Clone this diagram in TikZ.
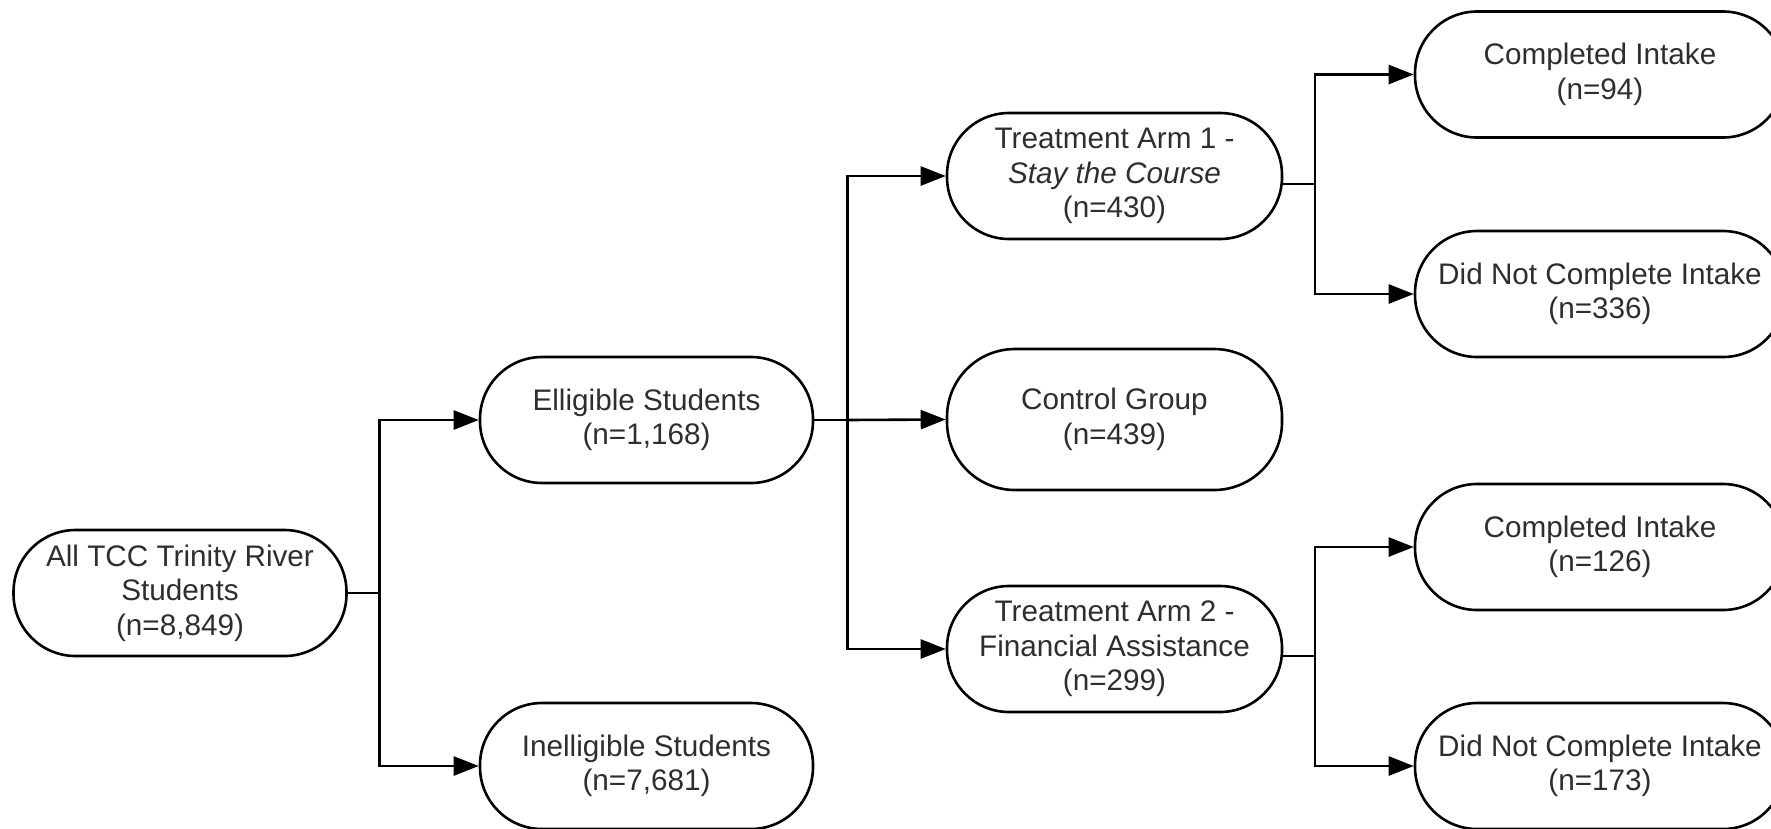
\documentclass[tikz,border=0pt]{standalone}
\usepackage{fontspec}
\setmainfont{Liberation Sans}
\usetikzlibrary{arrows.meta}
\begin{document}
\begin{tikzpicture}[x=1pt,y=-1pt,
  box/.style={draw=black,line width=2.6pt,rectangle,rounded corners=62pt,
    minimum width=333pt,minimum height=126pt,inner sep=0pt,align=center,
    text=black!82,font=\fontsize{29.7}{34.5}\selectfont},
  wide/.style={minimum width=370pt},
  conn/.style={line width=2.6pt,draw=black},
  arr/.style={conn,-{Triangle[length=25pt,width=19pt]}}]
\useasboundingbox (0,0) rectangle (1771,828);
% nodes
\node[box] (all)  at (180,593)   {All TCC Trinity River\\Students\\(n=8,849)};
\node[box] (ell)  at (646.5,420) {Elligible Students\\(n=1,168)};
\node[box] (inel) at (646.5,766) {Inelligible Students\\(n=7,681)};
\node[box,minimum width=335pt] (ta1) at (1114.5,176) {Treatment Arm 1 -\\\textit{Stay the Course}\\(n=430)};
\node[box,minimum width=335pt,minimum height=141pt,rounded corners=68pt] (ctrl) at (1114.5,419.5) {Control Group\\(n=439)};
\node[box,minimum width=335pt] (ta2) at (1114.5,649) {Treatment Arm 2 -\\Financial Assistance\\(n=299)};
\node[box,wide] (c1) at (1600,74.5) {Completed Intake\\(n=94)};
\node[box,wide] (d1) at (1600,294)  {Did Not Complete Intake\\(n=336)};
\node[box,wide] (c2) at (1600,547)  {Completed Intake\\(n=126)};
\node[box,wide] (d2) at (1600,766)  {Did Not Complete Intake\\(n=173)};
% junctions
\coordinate (j1) at (379.5,593);
\coordinate (j2) at (847.5,420);
\coordinate (j3) at (1315,184);
\coordinate (j4) at (1315,656);
% connectors
\draw[conn] (all.east) -- (j1);
\draw[arr] (j1) |- (ell.west);
\draw[arr] (j1) |- (inel.west);
\draw[conn] (ell.east) -- (j2);
\draw[arr] (j2) |- (ta1.west);
\draw[arr] (j2) -- (ctrl.west);
\draw[arr] (j2) |- (ta2.west);
\draw[conn] ([xshift=-1pt]ta1.east |- j3) -- (j3);
\draw[arr] (j3) |- (c1.west);
\draw[arr] (j3) |- (d1.west);
\draw[conn] ([xshift=-1pt]ta2.east |- j4) -- (j4);
\draw[arr] (j4) |- (c2.west);
\draw[arr] (j4) |- (d2.west);
\end{tikzpicture}
\end{document}
